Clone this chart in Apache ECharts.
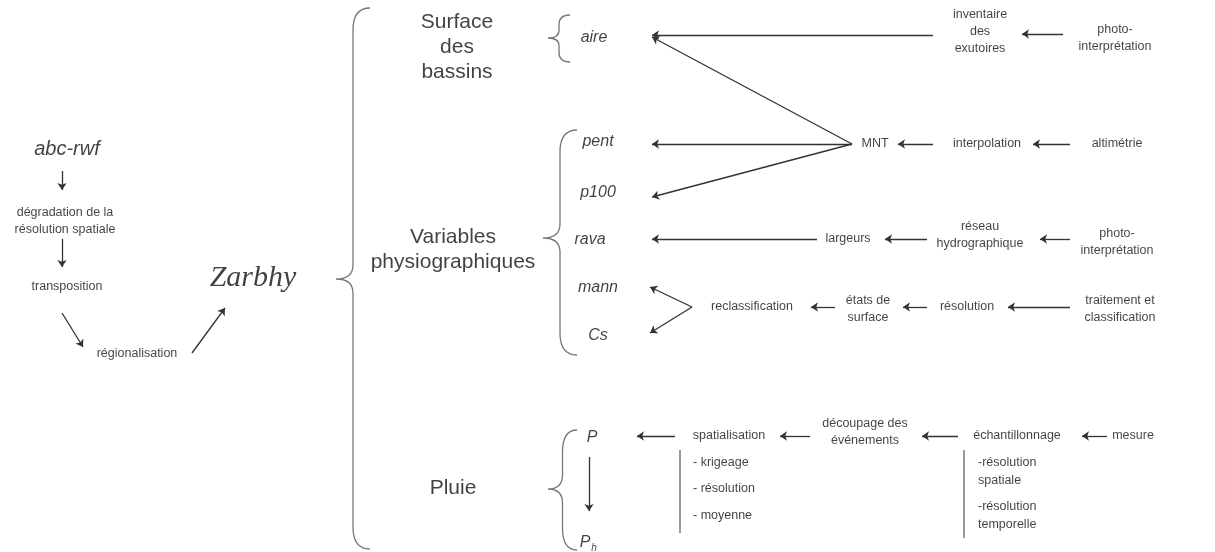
<!DOCTYPE html>
<html>
<head>
<meta charset="utf-8">
<script src="https://cdn.jsdelivr.net/npm/echarts@6/dist/echarts.min.js"></script>
<style>
  html, body { margin: 0; padding: 0; background: #fff; }
  #main { width: 1215px; height: 552px; }
</style>
</head>
<body>
<div id="main"></div>
<script>
// diagram space = pixel space of the original figure (x right, y down)
// plain process steps [x, y, text]
var steps = [
    [65, 221, 'dégradation de la\nrésolution spatiale'],
    [67, 287, 'transposition'],
    [137, 354, 'régionalisation'],
    [980, 32, 'inventaire\ndes\nexutoires'],
    [1115, 38, 'photo-\ninterprétation'],
    [875, 144, 'MNT'],
    [987, 144, 'interpolation'],
    [1117, 144, 'altimétrie'],
    [848, 239, 'largeurs'],
    [980, 235, 'réseau\nhydrographique'],
    [1117, 242, 'photo-\ninterprétation'],
    [752, 307, 'reclassification'],
    [868, 309, 'états de\nsurface'],
    [967, 307, 'résolution'],
    [1120, 309, 'traitement et\nclassification'],
    [729, 436, 'spatialisation'],
    [865, 432, 'découpage des\névénements'],
    [1017, 436, 'échantillonnage'],
    [1133, 436, 'mesure']
];
// left aligned sub-items
var subItems = [
    [693, 463, '- krigeage'],
    [693, 489, '- résolution'],
    [693, 516, '- moyenne'],
    [978, 472, '-résolution\nspatiale'],
    [978, 516, '-résolution\ntemporelle']
];
var groups = [
    [457, 47, 'Surface\ndes\nbassins'],
    [453, 250, 'Variables\nphysiographiques'],
    [453, 488, 'Pluie']
];
var variables = [
    [594, 38, 'aire'],
    [598, 142, 'pent'],
    [598, 193, 'p100'],
    [590, 240, 'rava'],
    [598, 288, 'mann'],
    [598, 336, 'Cs'],
    [592, 438, 'P'],
    [585, 543, 'P']
];
var subscripts = [[594, 548, 'h']];
var source = [[67, 149, 'abc-rwf']];
var model = [[253, 278, 'Zarbhy']];

// arrows: from -> to
var arrows = [
    [[62, 171], [62, 190]],
    [[62, 239], [62, 267]],
    [[62, 313], [83, 347]],
    [[192, 353], [225, 308]],
    [[933, 35], [652, 35]],
    [[852, 144], [652, 37]],
    [[852, 144], [652, 144]],
    [[852, 144], [652, 197]],
    [[933, 144], [898, 144]],
    [[1070, 144], [1033, 144]],
    [[1063, 34], [1022, 34]],
    [[817, 239], [652, 239]],
    [[927, 239], [885, 239]],
    [[1070, 239], [1040, 239]],
    [[692, 307], [650, 287]],
    [[692, 307], [650, 333]],
    [[835, 307], [811, 307]],
    [[927, 307], [903, 307]],
    [[1070, 307], [1008, 307]],
    [[675, 436], [637, 436]],
    [[810, 436], [780, 436]],
    [[958, 436], [922, 436]],
    [[1107, 436], [1082, 436]],
    [[589, 457], [589, 511]]
];
var bars = [
    [[680, 450], [680, 533]],
    [[964, 450], [964, 538]]
];
// braces: tipX, tipY, top, bottom, endX
var braces = [
    [336, 279, 8, 549, 370],
    [548, 38, 15, 62, 570],
    [543, 238, 130, 355, 577],
    [548, 489, 430, 550, 577]
];

function toPts(arr) {
    return arr.map(function (d) { return { value: [d[0], d[1]], name: d[2] }; });
}

function textSeries(data, font, pos) {
    return {
        type: 'scatter',
        symbolSize: 0,
        silent: true,
        data: toPts(data),
        label: Object.assign({
            show: true,
            position: pos || 'inside',
            distance: 0,
            formatter: '{b}',
            color: '#111',
            fontFamily: 'Liberation Sans, Arial, sans-serif'
        }, font)
    };
}

function renderBrace(params, api) {
    var tip = api.coord([api.value(0), api.value(1)]);
    var top = api.coord([api.value(4), api.value(2)]);
    var bot = api.coord([api.value(4), api.value(3)]);
    var sx = tip[0] + (top[0] - tip[0]) * 0.5;
    var r = Math.min(22, (bot[1] - top[1]) / 5);
    var r2 = Math.min(14, (bot[1] - top[1]) / 6);
    var p = 'M' + top[0] + ' ' + top[1] +
        ' Q' + sx + ' ' + top[1] + ' ' + sx + ' ' + (top[1] + r) +
        ' L' + sx + ' ' + (tip[1] - r2) +
        ' Q' + sx + ' ' + tip[1] + ' ' + tip[0] + ' ' + tip[1] +
        ' Q' + sx + ' ' + tip[1] + ' ' + sx + ' ' + (tip[1] + r2) +
        ' L' + sx + ' ' + (bot[1] - r) +
        ' Q' + sx + ' ' + bot[1] + ' ' + bot[0] + ' ' + bot[1];
    return {
        type: 'path',
        shape: { pathData: p },
        style: { stroke: '#777', fill: 'none', lineWidth: 1.3 }
    };
}

var chart = echarts.init(document.getElementById('main'));
var option = {
    animation: false,
    grid: { left: 0, right: 0, top: 0, bottom: 0 },
    xAxis: { type: 'value', min: 0, max: 1215, show: false },
    yAxis: { type: 'value', min: 0, max: 552, inverse: true, show: false },
    series: [
        {
            type: 'custom',
            silent: true,
            renderItem: renderBrace,
            encode: { x: [0, 4], y: [1, 2, 3] },
            data: braces
        },
        {
            type: 'lines',
            coordinateSystem: 'cartesian2d',
            silent: true,
            symbol: ['none', 'arrow'],
            symbolSize: 7,
            lineStyle: { color: '#333', width: 1.3, opacity: 1 },
            data: arrows.map(function (a) { return { coords: a }; })
        },
        {
            type: 'lines',
            coordinateSystem: 'cartesian2d',
            silent: true,
            symbol: 'none',
            lineStyle: { color: '#777', width: 1.5, opacity: 1 },
            data: bars.map(function (a) { return { coords: a }; })
        },
        textSeries(steps, { fontSize: 12.5, lineHeight: 17 }),
        textSeries(subItems, { fontSize: 12.5, lineHeight: 18, align: 'left' }, 'right'),
        textSeries(groups, { fontSize: 21, lineHeight: 25 }),
        textSeries(variables, { fontSize: 16, fontStyle: 'italic' }),
        textSeries(subscripts, { fontSize: 10, fontStyle: 'italic' }),
        textSeries(source, { fontSize: 20, fontStyle: 'italic' }),
        textSeries(model, { fontSize: 30, fontStyle: 'italic', fontFamily: 'Liberation Serif, serif', color: '#111' })
    ]
};
chart.setOption(option);
</script>
</body>
</html>
